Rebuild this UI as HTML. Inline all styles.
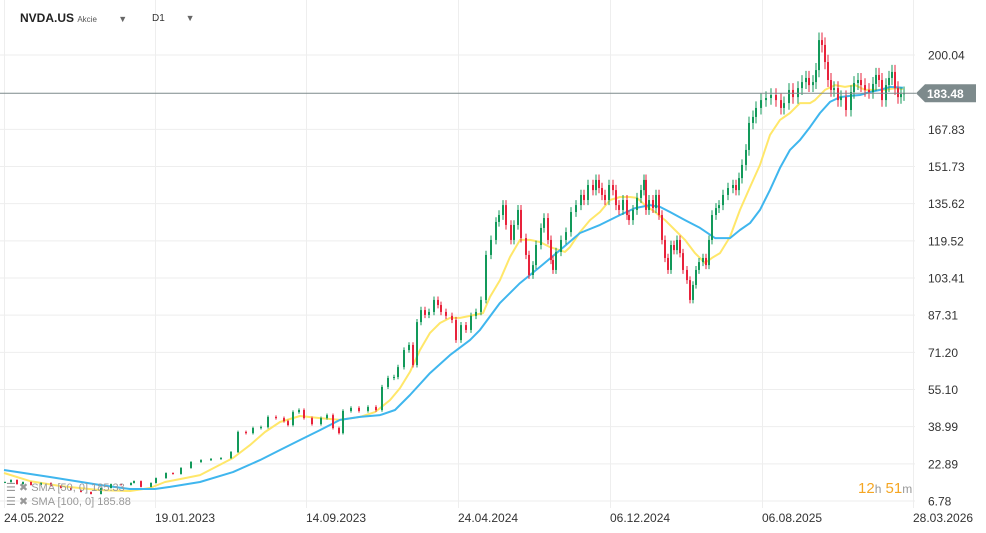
<!DOCTYPE html>
<html><head><meta charset="utf-8"><style>
body{margin:0;background:#fff;font-family:"Liberation Sans",sans-serif;}
#wrap{position:relative;width:986px;height:533px;overflow:hidden;}
svg text{font-family:"Liberation Sans",sans-serif;}
</style></head><body>
<div id="wrap">
<svg id="chart" width="986" height="533"></svg>
</div>
<script>
// ---- data ----
const barIdx=[0,6,12,18,26,36,46,56,66,76,86,96,106,116,126,129,136,146,151,161,168,176,186,196,206,216,226,233,241,248,256,263,271,279,283,288,294,299,307,316,322,328,334,338,346,354,363,371,377,383,389,393,399,404,408,412,416,420,424,429,433,436,441,447,451,456,461,466,471,476,481,486,491,494,498,501,506,509,513,516,521,524,528,531,536,539,543,546,548,551,556,561,566,571,576,579,583,588,591,594,597,600,604,608,611,614,618,622,624,628,632,636,639,641,644,648,651,654,657,660,663,666,669,672,675,678,682,685,688,691,694,698,701,704,707,711,714,718,723,728,731,734,737,741,744,748,751,756,761,766,771,776,779,784,788,793,797,801,804,808,811,814,817,820,823,826,829,833,836,841,846,849,853,856,860,864,868,871,874,877,881,884,887,890,893,896,899];
const closes=[15.0,15.9,14.1,15.0,13.7,14.6,13.3,12.4,11.5,10.7,9.8,12.4,14.1,13.7,14.6,15.4,12.9,14.6,16.7,18.9,18.5,21.1,23.7,24.5,25.0,25.4,28.0,36.7,36.2,38.4,38.8,43.2,42.7,41.4,39.7,45.3,46.2,42.7,40.1,42.7,44.0,38.4,36.2,45.8,47.1,45.8,47.5,46.2,56.2,60.1,60.5,64.8,72.2,74.4,65.7,84.3,89.5,87.4,88.7,93.9,91.7,88.7,87.0,85.2,76.5,83.0,80.9,87.0,88.7,93.9,113.4,119.9,127.7,130.7,135.0,126.4,119.9,126.4,132.9,120.7,113.4,104.7,109.0,117.7,125.1,129.4,119.9,111.2,106.9,114.7,119.9,123.3,132.0,135.0,139.4,137.2,143.7,141.5,145.9,142.4,139.4,137.2,143.7,141.5,135.0,132.9,137.2,130.7,128.5,132.9,138.1,141.5,145.9,132.9,137.2,133.7,139.4,130.7,119.9,112.1,106.9,117.7,115.5,119.9,114.2,106.9,102.5,93.9,100.4,106.9,110.3,112.1,109.0,119.9,130.7,133.7,135.0,139.4,142.4,143.7,141.5,146.7,152.4,158.9,170.6,173.2,177.1,180.5,181.4,182.7,180.5,177.1,179.2,184.9,181.8,185.7,188.3,190.1,187.0,188.3,193.5,206.5,204.4,197.0,189.2,184.9,185.7,180.5,181.8,176.2,184.0,187.9,189.2,187.0,184.9,184.0,187.5,191.4,189.2,180.5,187.0,190.1,192.7,185.7,181.8,183.1,183.48];
const sma50Idx=[0,26,56,96,126,146,161,181,196,229,246,261,276,296,316,336,356,371,386,396,406,416,426,436,446,456,466,479,486,496,506,516,526,536,546,561,566,576,586,596,606,616,626,633,641,651,661,671,681,691,701,708,716,726,736,746,756,766,776,786,796,806,811,821,831,841,851,861,871,881,891,899];
const sma50=[18.9,15.4,13.3,11.5,11.1,12.4,15.0,16.7,18.0,25.4,31.0,36.7,41.0,43.6,42.7,41.9,43.2,45.3,50.5,55.7,62.7,72.2,79.6,83.9,86.1,86.1,87.0,88.2,95.2,102.5,112.5,119.9,119.9,119.0,116.8,114.7,116.8,123.3,128.5,132.0,137.2,138.5,138.5,138.1,135.0,132.0,128.5,124.2,119.9,114.2,109.9,112.1,114.2,121.2,132.9,142.8,152.4,165.4,171.9,174.9,179.2,179.2,180.5,184.9,187.0,186.2,187.0,184.9,184.9,184.9,185.7,185.3];
const sma100Idx=[0,46,96,126,151,166,196,229,256,276,296,316,336,356,376,391,406,426,446,466,476,496,516,536,556,576,596,616,631,646,656,666,681,696,711,726,736,746,756,766,776,786,796,806,816,826,836,846,856,866,876,886,899];
const sma100=[20.2,17.2,13.7,12.0,12.0,12.9,15.0,19.3,24.5,28.9,33.2,37.5,41.9,43.2,44.0,46.2,52.7,62.2,70.0,76.5,80.9,92.6,101.2,108.2,115.5,122.9,126.4,130.7,133.7,135.0,134.2,132.0,128.5,125.1,120.7,120.7,124.2,127.2,132.9,141.6,151.1,158.9,163.2,168.8,174.9,179.7,181.8,182.3,182.7,184.0,184.9,186.2,185.88];
const yTicks=[200.04,167.83,151.73,135.62,119.52,103.41,87.31,71.20,55.10,38.99,22.89,6.78];
const xLabels=["24.05.2022","19.01.2023","14.09.2023","24.04.2024","06.12.2024","06.08.2025","28.03.2026"];
const xLabelIdx=[0,151,302,454,606,758,909];
const lastPrice=183.48;
// ---- scales ----
const NS="http://www.w3.org/2000/svg";
const svg=document.getElementById('chart');
const xS=i=>4+i;
const yS=v=>55+(200.04-v)/0.43332;
function mk(tag,attrs,parent){const e=document.createElementNS(NS,tag);for(const k in attrs)e.setAttribute(k,attrs[k]);(parent||svg).appendChild(e);return e;}
// grid
const grid=mk('g',{});


yTicks.forEach(v=>{const l=mk('line',{x1:0,x2:915,y1:yS(v),y2:yS(v),stroke:'#eeeeee','stroke-width':1},grid);

});
xLabelIdx.forEach(i=>{const l=mk('line',{x1:xS(i)+.5,x2:xS(i)+.5,y1:0,y2:508,stroke:'#eeeeee','stroke-width':1},grid);

});
// y labels
yTicks.forEach(v=>{const t=mk('text',{x:928,y:yS(v)+4.5,'font-size':12,fill:'#333'});t.textContent=v.toFixed(2);

});
// x labels
xLabels.forEach((s,k)=>{const t=mk('text',{x:xS(xLabelIdx[k]),y:522,'font-size':12,fill:'#333'});t.textContent=s;

});
// SMA lines
function line(idx,vals,color,name){const d=idx.map((i,k)=>(k?'L':'M')+xS(i).toFixed(1)+' '+yS(vals[k]).toFixed(1)).join(' ');
const p=mk('path',{d:d,fill:'none',stroke:color,'stroke-width':2,'stroke-linejoin':'round'});

}
line(sma50Idx,sma50,'#ffe76a','sma-50-line');
line(sma100Idx,sma100,'#3fb6ee','sma-100-line');
// candles
const cg=mk('g',{});


closes.forEach((c,k)=>{const o=k?closes[k-1]:c*0.99;const up=c>=o;const col=up?'#12995a':'#e8223b';
const hi=Math.max(o,c)*1.016,lo=Math.min(o,c)*0.984;const x=xS(barIdx[k]);
const w=mk('line',{x1:x+1,x2:x+1,y1:yS(hi),y2:yS(lo),stroke:col,'stroke-width':1},cg);


const top=yS(Math.max(o,c)),bot=yS(Math.min(o,c));
const r=mk('rect',{x:x,y:top,width:2,height:Math.max(1,bot-top),fill:col},cg);

});
// current price line
const pl=mk('line',{x1:0,x2:916,y1:yS(lastPrice),y2:yS(lastPrice),stroke:'#7d8a8c','stroke-width':1});


const py=yS(lastPrice);
const pb=mk('path',{d:`M916 ${py} L925 ${py-9} L976 ${py-9} L976 ${py+9} L925 ${py+9} Z`,fill:'#7d8a8c'});


const pt=mk('text',{x:927,y:py+5,'font-size':12,'font-weight':'bold',fill:'#fff'});pt.textContent=lastPrice.toFixed(2);


</script>
<div style="position:absolute;left:20px;top:11px;font-size:12px;font-weight:bold;color:#222;">NVDA.US <span style="font-size:8px;font-weight:normal;color:#555">Akcie</span> <span style="font-size:9px;color:#666;margin-left:18px">▼</span></div>
<div style="position:absolute;left:152px;top:13px;font-size:10px;color:#333;">D1 <span style="font-size:9px;color:#666;margin-left:18px">▼</span></div>
<div style="position:absolute;left:6px;top:481px;font-size:11px;color:#999;">☰ ✖ SMA [50, 0] 185.33</div>
<div style="position:absolute;left:6px;top:495px;font-size:11px;color:#999;">☰ ✖ SMA [100, 0] 185.88</div>
<div style="position:absolute;left:858px;top:480px;font-size:15px;color:#f5a623;">12<span style="font-size:12px;color:#999">h</span> 51<span style="font-size:12px;color:#999">m</span></div>
</body></html>
